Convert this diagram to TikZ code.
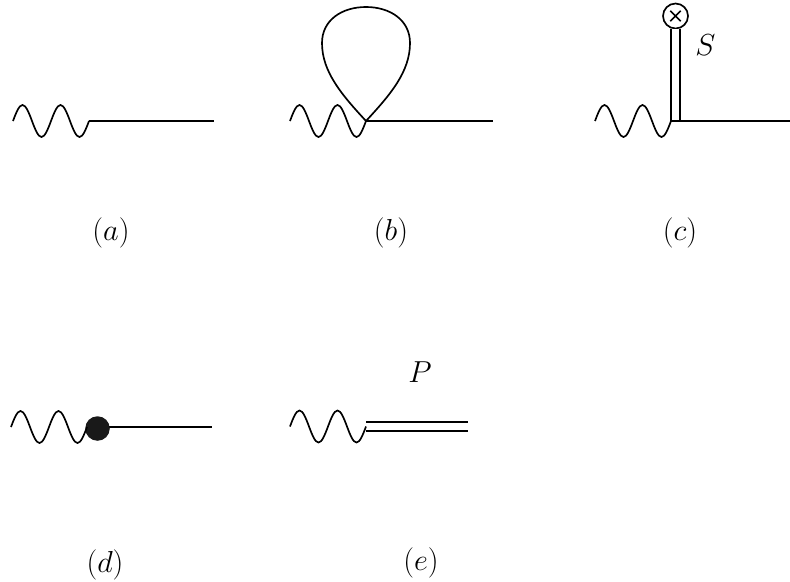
\documentclass[tikz,border=0pt]{standalone}
\usepackage{amsmath}
\usepackage{xcolor}
\usetikzlibrary{calc}

\begin{document}
\begin{tikzpicture}[
  wave/.style={line width=0.95pt},
  prop/.style={line width=1.15pt},
  dbl/.style={line width=1pt, double, double distance=0.14cm},
  lbl/.style={font=\LARGE, inner sep=0pt},
  blob/.style={circle, fill=black!90, inner sep=0pt, minimum size=0.49cm},
  ins/.style={circle, draw, line width=0.95pt, fill=white, inner sep=0pt, minimum size=0.5cm},
]
\useasboundingbox (0,0) rectangle (15.8,11.62);

%% ---- (a) tree level ----
\coordinate (a0) at (0.26,9.2);
\coordinate (a1) at (1.78,9.2);
\coordinate (a2) at (4.28,9.2);
\draw[prop] (a1) -- (a2);
\node[lbl] (la) at (2.22,6.96) {$(a)$};

%% ---- (b) loop ----
\coordinate (b0) at (5.8,9.2);
\coordinate (b1) at (7.32,9.2);
\coordinate (b2) at (9.86,9.2);
\draw[prop] (b1) -- (b2);
\draw[line width=0.95pt] (b1)
  .. controls (6.84,9.72) and (6.44,10.18) .. (6.44,10.76)
  .. controls (6.44,11.22) and (6.84,11.48) .. (7.32,11.48)
  .. controls (7.80,11.48) and (8.20,11.22) .. (8.20,10.76)
  .. controls (8.20,10.18) and (7.80,9.72) .. (b1);
\node[lbl] (lb) at (7.82,6.96) {$(b)$};

%% ---- (c) insertion ----
\coordinate (c0) at (11.9,9.2);
\coordinate (c1) at (13.42,9.2);
\coordinate (c2) at (15.8,9.2);
\coordinate (c3) at (13.51,9.2);
\node[ins] (cs) at (13.51,11.3) {};
\draw[line width=0.95pt]
  ($(cs)!0.55!(cs.north west)$) -- ($(cs)!0.55!(cs.south east)$)
  ($(cs)!0.55!(cs.north east)$) -- ($(cs)!0.55!(cs.south west)$);
\draw[dbl] (c3) -- (cs.south);
\draw[prop] (c1) -- (c2);
\node[lbl] (ls) at (14.11,10.72) {$S$};
\node[lbl] (lc) at (13.6,6.96) {$(c)$};

%% ---- (d) blob ----
\coordinate (d0) at (0.22,3.08);
\coordinate (d3) at (1.95,3.08);
\coordinate (d2) at (4.24,3.08);
\draw[prop] (d3) -- (d2);
\node[blob] (dv) at (1.95,3.05) {};
\node[lbl] (ld) at (2.1,0.32) {$(d)$};

%% ---- (e) double line ----
\coordinate (e0) at (5.8,3.09);
\coordinate (e1) at (7.32,3.09);
\coordinate (e2) at (9.36,3.09);
\draw[dbl] (e1) -- (e2);
\node[lbl] (lp) at (8.4,4.17) {$P$};
\node[lbl] (le) at (8.42,0.36) {$(e)$};

%% ---- Waves ----
\foreach \s in {a0, b0, c0, d0, e0}{
  \draw[wave] (\s) sin ++(.19,.32) cos ++(.19,-.32) sin ++(.19,-.32) cos ++(.19,.32)
    sin ++(.19,.32) cos ++(.19,-.32) sin ++(.19,-.32) cos ++(.19,.32);
}

\end{tikzpicture}
\end{document}
